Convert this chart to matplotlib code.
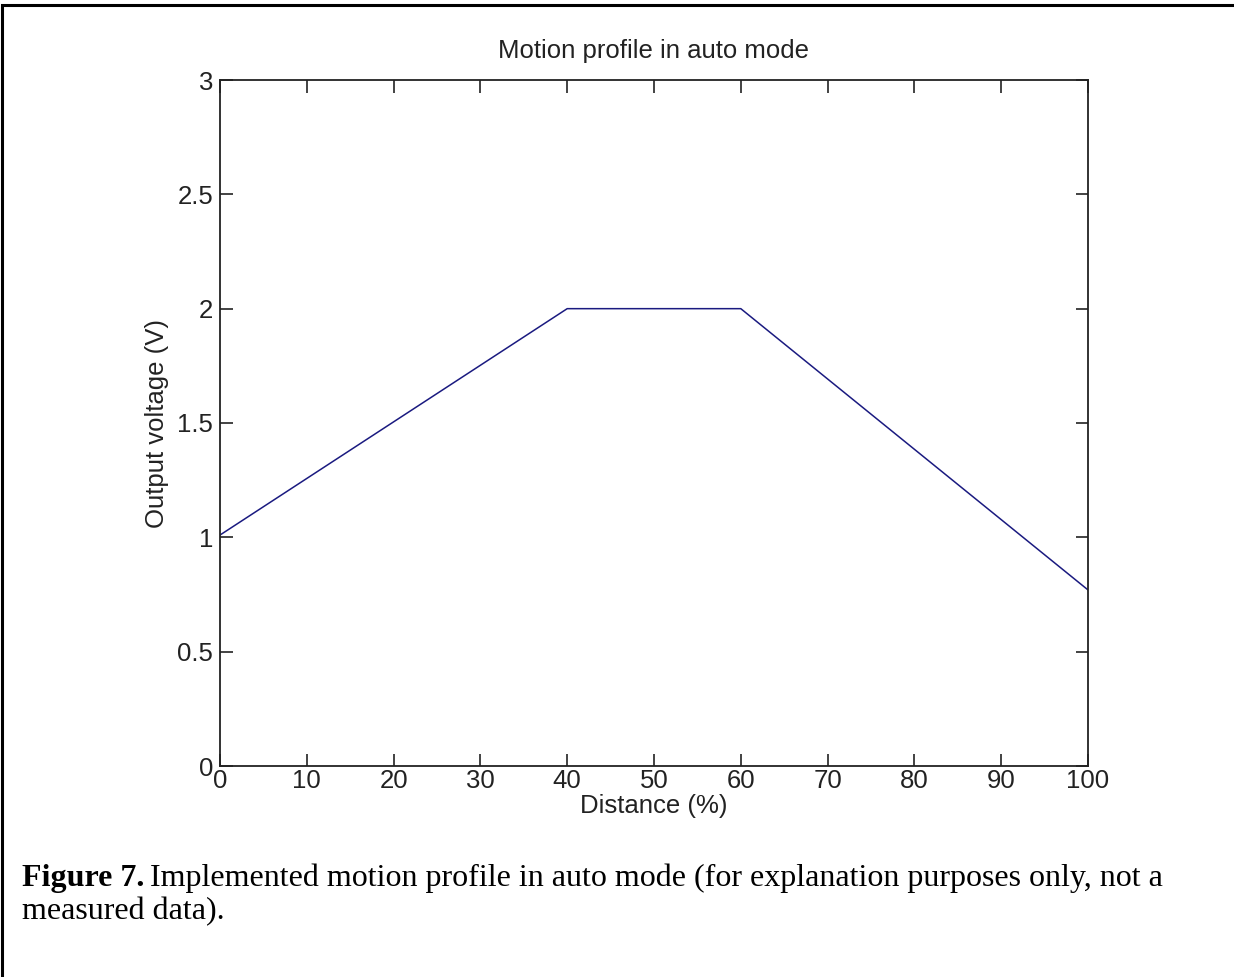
import matplotlib
matplotlib.use("Agg")
import matplotlib.pyplot as plt
from matplotlib.patches import Rectangle

# Data
distance = [0, 40, 60, 100]
voltage = [1.01, 2.0, 2.0, 0.77]
x_ticks = [0, 10, 20, 30, 40, 50, 60, 70, 80, 90, 100]
y_ticks = [0, 0.5, 1, 1.5, 2, 2.5, 3]
y_tick_labels = ["0", "0.5", "1", "1.5", "2", "2.5", "3"]

W, H = 1234, 977
fig = plt.figure(figsize=(W / 100, H / 100), dpi=100)
plt.rcParams["font.family"] = ["Liberation Sans", "DejaVu Sans"]

# outer frame (top and left edges visible in the reference)
fig.patches.append(Rectangle((2 / W, -0.01), 1.2, 1 - 5 / H + 0.01,
                             transform=fig.transFigure, fill=False,
                             edgecolor="black", linewidth=2.2))

ax = fig.add_axes([220 / W, 1 - 766 / H, (1088 - 220) / W, (766 - 80) / H])
ax.plot(distance, voltage, color="#1a1a80", linewidth=1.1)

ax.set_xlim(0, 100)
ax.set_ylim(0, 3)
ax.set_xticks(x_ticks)
ax.set_xticklabels([str(t) for t in x_ticks])
ax.set_yticks(y_ticks)
ax.set_yticklabels(y_tick_labels)
ax.tick_params(direction="in", length=9, width=1.2, top=True, right=True,
               labelsize=18.5, colors="#222222")
ax.tick_params(axis="x", pad=2)
ax.tick_params(axis="y", pad=5)
for s in ax.spines.values():
    s.set_linewidth(1.3)
    s.set_color("#222222")

ax.set_title("Motion profile in auto mode", fontsize=18.5, color="#222222", pad=16)
ax.set_xlabel("Distance (%)", fontsize=18.5, color="#222222", labelpad=1)
ax.set_ylabel("Output voltage (V)", fontsize=18.5, color="#222222", labelpad=6)

# caption below the plot: bold lead-in followed by regular text
cap_font = ["Liberation Serif", "DejaVu Serif"]
fig.canvas.draw()
renderer = fig.canvas.get_renderer()
t1 = fig.text(22 / W, 1 - 886 / H, "Figure 7.", family=cap_font, fontsize=23,
              fontweight="bold", va="baseline")
bb = t1.get_window_extent(renderer=renderer)
fig.text(bb.x1 / W + 6 / W, 1 - 886 / H,
         "Implemented motion profile in auto mode (for explanation purposes only, not a",
         family=cap_font, fontsize=23, va="baseline")
fig.text(22 / W, 1 - 919 / H, "measured data).", family=cap_font, fontsize=23,
         va="baseline")

fig.savefig("out.png", dpi=100)
